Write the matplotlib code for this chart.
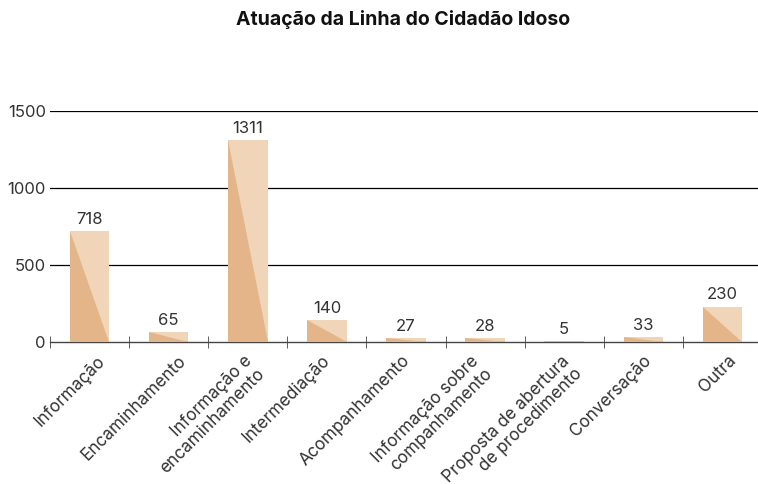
import numpy as np
import matplotlib.pyplot as plt
import matplotlib.transforms as mtransforms
from matplotlib.patches import Polygon

plt.rcParams['font.family'] = ['Inter', 'DejaVu Sans']

categories = ["Informação", "Encaminhamento", "Informação e\nencaminhamento",
              "Intermediação", "Acompanhamento", "Informação sobre\ncompanhamento",
              "Proposta de abertura\nde procedimento", "Conversação", "Outra"]
values = [718, 65, 1311, 140, 27, 28, 5, 33, 230]

# horizontal nudge of each tick label, in pixels (the original places them unevenly)
label_nudge = [7, 9, -4.5, -5, -5, -14.5, -3.5, -0.5, 5.5]

light = "#F0D5B8"
dark = "#E3B588"

fig = plt.figure(figsize=(7.58, 4.84), dpi=100)
ax = fig.add_axes([0.066, 0.2934, 0.9393, 0.4773])

x = np.arange(len(values))
w = 0.5
bars = ax.bar(x, values, width=w, color=light, zorder=2)
for b, v in zip(bars, values):
    x0 = b.get_x()
    x1 = x0 + b.get_width()
    ax.add_patch(Polygon([(x0, v), (x0, 0), (x1, 0)], closed=True,
                         facecolor=dark, edgecolor='none', zorder=3))
    ax.annotate(str(v), (b.get_x() + b.get_width() / 2, v), xytext=(0, 3),
                textcoords='offset points', ha='center', va='bottom',
                fontsize=12, color='#333333')

ax.set_xlim(-0.5, len(values) - 0.5)
ax.set_ylim(0, 1500)
ax.set_yticks([0, 500, 1000, 1500])
ax.set_yticklabels(["0", "500", "1000", "1500"], fontsize=12, color='#333333')
ax.tick_params(axis='y', length=0, pad=3)
for yv in [500, 1000, 1500]:
    ax.axhline(yv, color='black', linewidth=0.9, zorder=1)

for s in ['top', 'right', 'left']:
    ax.spines[s].set_visible(False)
ax.spines['bottom'].set_color('#444444')
ax.spines['bottom'].set_linewidth(1.0)

ax.set_xticks(np.arange(-0.5, len(values), 1.0), minor=True)
ax.tick_params(axis='x', which='minor', direction='inout', length=8, color='#444444')
ax.set_xticks(x)
ax.set_xticklabels(categories, rotation=45, ha='right', rotation_mode='anchor',
                   fontsize=12.3, color='#333333', multialignment='right',
                   linespacing=1.12)
ax.tick_params(axis='x', which='major', length=0, pad=7.5)
for lbl, dx in zip(ax.get_xticklabels(), label_nudge):
    shift = mtransforms.ScaledTranslation(dx / 100, 0, fig.dpi_scale_trans)
    lbl.set_transform(lbl.get_transform() + shift)

fig.text(0.5317, 0.9587, "Atuação da Linha do Cidadão Idoso", ha='center', va='center',
         fontsize=14, fontweight='bold', color='#111111')

fig.savefig("out.png", dpi=100)
